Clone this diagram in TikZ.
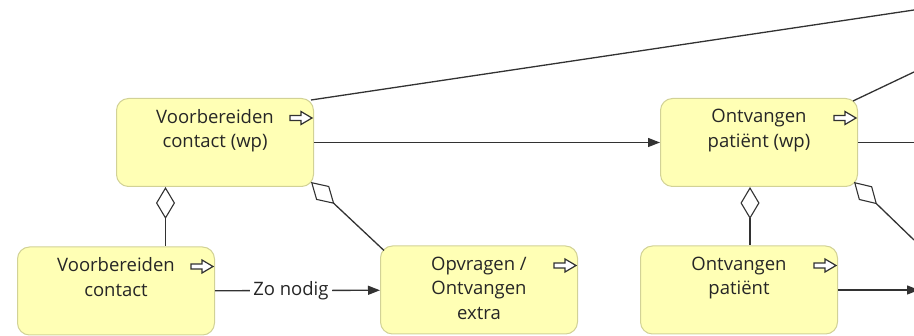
\documentclass[tikz,border=0pt]{standalone}
\usepackage{fontspec}
\setmainfont{Open Sans}
\usetikzlibrary{positioning,arrows.meta,calc}
\definecolor{bizfill}{RGB}{255,255,181}
\definecolor{bizline}{RGB}{210,210,150}
\definecolor{relline}{RGB}{50,50,50}
\tikzset{
  proc/.style={draw=bizline,fill=bizfill,rounded corners=12pt,minimum width=197pt,minimum height=88pt,line width=1pt,inner sep=0pt},
  proctext/.style={align=center,inner sep=0pt,font=\fontsize{18.5}{24.5}\selectfont,text=black!85},
  rel/.style={draw=relline,line width=1.3pt},
  agg/.style={{Diamond[open,length=32pt,width=19pt,line width=1.1pt]}-},
  note/.style={fill=white,inner sep=3pt,font=\fontsize{18.5}{22}\selectfont,text=black!85},
  procicon/.pic={\draw[relline,line width=1.2pt,fill=white] (-11,-2.5) -- (0,-2.5) -- (0,-6.5) -- (11,0) -- (0,6.5) -- (0,2.5) -- (-11,2.5) -- cycle;}
}
\begin{document}
\begin{tikzpicture}[x=1pt,y=-1pt,>={Triangle[length=12pt,width=9pt]}]
  \useasboundingbox (0,0) rectangle (914,336);
  % processes
  \node[proc] (vcwp) at (215,142.5) {};
  \node[proc] (opwp) at (759,142.5) {};
  \node[proc] (vc) at (116,291) {};
  \node[proc] (ove) at (479,290) {};
  \node[proc] (op) at (739,290) {};
  \node[proctext,below=11pt of vcwp.north] (vcwpt) {Voorbereiden\\contact (wp)};
  \node[proctext,below=11pt of opwp.north] (opwpt) {Ontvangen\\patiënt (wp)};
  \node[proctext,below=11pt of vc.north] (vct) {Voorbereiden\\contact};
  \node[proctext,below=11pt of ove.north] (ovet) {Opvragen /\\Ontvangen\\extra};
  \node[proctext,below=11pt of op.north] (opt) {Ontvangen\\patiënt};
  \foreach \p in {vcwp,opwp,vc,ove,op}
    \pic at ([shift={(-13,20)}]\p.north east) {procicon};
  % free ends beyond the edge
  \coordinate (endtop) at (914,10);
  \coordinate (endup) at (914,72);
  \coordinate (endmid) at (914,142.5);
  \coordinate (enddown) at (914,240);
  \coordinate (endlow) at (919,290);
  % relations
  \draw[rel] ([shift={(-3,2)}]vcwp.north east) -- (endtop);
  \draw[rel,->] (vcwp) -- (opwp);
  \draw[rel] ([shift={(-5,3)}]opwp.north east) -- (endup);
  \draw[rel] (opwp.east) -- (endmid);
  \draw[rel,agg] ($(vcwp.south west)!.25!(vcwp.south east)$) coordinate (aggvc) -- (aggvc |- vc.north);
  \draw[rel,agg] ([shift={(-3,-5)}]vcwp.south east) -- ([shift={(4,5)}]ove.north west);
  \draw[rel,agg] ([shift={(-9,0)}]opwp.south) coordinate (aggop) -- (aggop |- op.north);
  \draw[rel,agg] ([shift={(-4,-5)}]opwp.south east) -- (enddown);
  \draw[rel,->] (vc) -- node[note,pos=.46] (zn) {Zo nodig} (ove);
  \draw[rel,->] (op.east) -- (endlow);
\end{tikzpicture}
\end{document}
